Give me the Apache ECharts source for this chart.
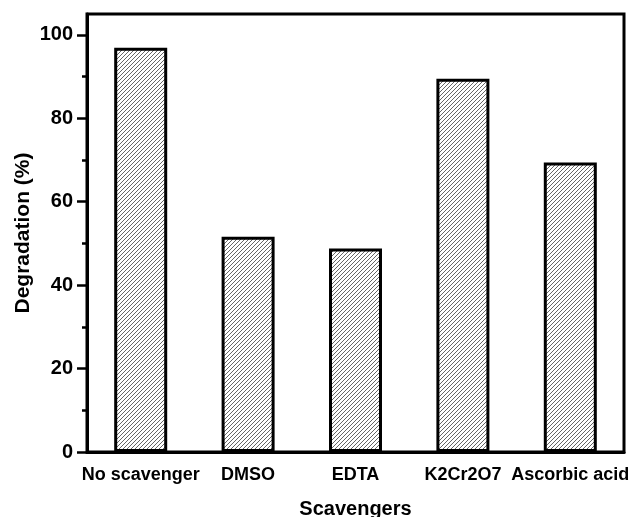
<!DOCTYPE html>
<html>
<head>
<meta charset="utf-8">
<script src="https://cdn.jsdelivr.net/npm/echarts@6/dist/echarts.min.js"></script>
<style>
html,body{margin:0;padding:0;background:#fff;}
#chart{width:634px;height:517px;}
</style>
</head>
<body>
<div id="chart"></div>
<script>
const categories = ['No scavenger', 'DMSO', 'EDTA', 'K2Cr2O7', 'Ascorbic acid'];
const degradation = [96.9, 51.6, 48.8, 89.5, 69.4];
const majorTicks = [0, 20, 40, 60, 80, 100];
const minorTicks = [10, 30, 50, 70, 90];

// hatch pattern
const tile = document.createElement('canvas');
tile.width = 4; tile.height = 4;
const c = tile.getContext('2d');
c.fillStyle = '#fff'; c.fillRect(0, 0, 4, 4);
c.strokeStyle = '#333'; c.lineWidth = 0.75;
c.beginPath();
c.moveTo(-1, 5); c.lineTo(5, -1);
c.moveTo(-1, 1); c.lineTo(1, -1);
c.moveTo(3, 5); c.lineTo(5, 3);
c.stroke();

const font = 'Liberation Sans, Arial, sans-serif';
const chart = echarts.init(document.getElementById('chart'));
chart.setOption({
  animation: false,
  backgroundColor: '#fff',
  grid: { left: 87, right: 10, top: 14, bottom: 65, show: true, borderColor: '#000', borderWidth: 3, containLabel: false, outerBoundsMode: 'none' },
  xAxis: [{
    type: 'category', data: categories, position: 'bottom',
    name: 'Scavengers', nameLocation: 'middle', nameGap: 47, nameMoveOverlap: false,
    nameTextStyle: { fontFamily: font, fontWeight: 'bold', fontSize: 20, color: '#000' },
    axisLine: { lineStyle: { color: '#000', width: 3 } },
    axisTick: { alignWithLabel: true, length: 10, lineStyle: { color: '#000', width: 2.5 } },
    axisLabel: { fontFamily: font, fontWeight: 'bold', fontSize: 18, color: '#000', margin: 14, interval: 0 },
    splitLine: { show: false }
  }, {
    type: 'category', data: categories, position: 'bottom',
    axisLine: { show: false },
    axisTick: { alignWithLabel: false, length: 5, lineStyle: { color: '#000', width: 2.5 } },
    axisLabel: { show: false },
    splitLine: { show: false }
  }],
  yAxis: [{
    type: 'value', min: 0, max: 105,
    name: 'Degradation (%)', nameLocation: 'middle', nameGap: 53, nameMoveOverlap: false,
    nameTextStyle: { fontFamily: font, fontWeight: 'bold', fontSize: 21, color: '#000' },
    axisLine: { show: true, lineStyle: { color: '#000', width: 3 } },
    axisTick: { show: true, length: 10, customValues: majorTicks, lineStyle: { color: '#000', width: 2.5 } },
    axisLabel: { fontFamily: font, fontWeight: 'bold', fontSize: 20, color: '#000', margin: 14, customValues: majorTicks },
    splitLine: { show: false }
  }, {
    type: 'value', min: 0, max: 105, position: 'left',
    axisLine: { show: false },
    axisTick: { show: true, length: 5, customValues: minorTicks, lineStyle: { color: '#000', width: 2.5 } },
    axisLabel: { show: false },
    splitLine: { show: false }
  }],
  series: [{
    type: 'bar', xAxisIndex: 0, yAxisIndex: 0,
    data: degradation, barWidth: 53,
    itemStyle: { color: { image: tile, repeat: 'repeat' }, borderColor: '#000', borderWidth: 3 }
  }]
});
</script>
</body>
</html>
